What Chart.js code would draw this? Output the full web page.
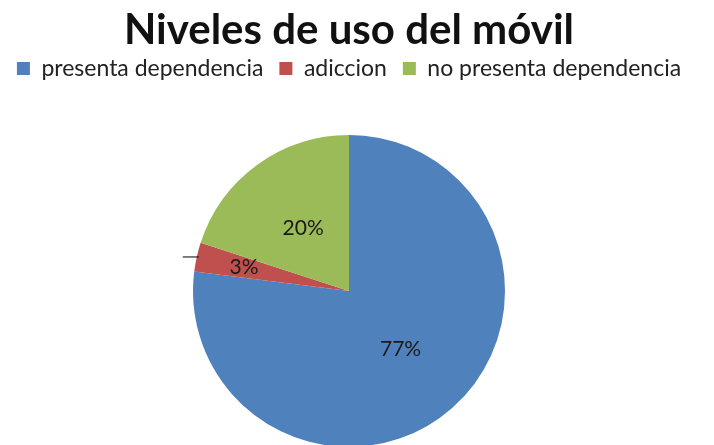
<!DOCTYPE html>
<html>
<head>
<meta charset="utf-8">
<script src="https://cdn.jsdelivr.net/npm/chart.js@4"></script>
<style>
  html, body { margin: 0; padding: 0; background: #fff; overflow: hidden; }
  #wrap { width: 714px; height: 460px; position: relative; }
</style>
</head>
<body>
<div id="wrap"><canvas id="myChart"></canvas></div>
<script>
const labels = ["presenta dependencia", "adiccion", "no presenta dependencia"];
const values = [77, 3, 20];
const colors = ["#4F81BD", "#C0504D", "#9BBB59"];

// percent labels drawn at a fraction of the radius
const sliceLabels = {
  id: "sliceLabels",
  afterDatasetsDraw(chart) {
    const ctx = chart.ctx;
    const meta = chart.getDatasetMeta(0);
    const pos = [0.5, 0.69, 0.5];
    ctx.save();
    ctx.font = "21px Lato";
    ctx.fillStyle = "#1a1a1a";
    ctx.textAlign = "center";
    ctx.textBaseline = "middle";
    meta.data.forEach((arc, i) => {
      const mid = (arc.startAngle + arc.endAngle) / 2;
      const r = arc.outerRadius * pos[i];
      const x = arc.x + Math.cos(mid) * r;
      const y = arc.y + Math.sin(mid) * r;
      ctx.fillText(values[i] + "%", x, y);
      if (i === 1) {
        // little leader stub outside the slice
        const ox = arc.x + Math.cos(mid) * arc.outerRadius;
        const oy = arc.y + Math.sin(mid) * arc.outerRadius;
        ctx.strokeStyle = "#000";
        ctx.lineWidth = 1;
        ctx.beginPath();
        ctx.moveTo(ox + 2, oy);
        ctx.lineTo(ox - 14, oy);
        ctx.stroke();
      }
    });
    ctx.restore();
  }
};

// push the pie further below the legend
const legendGap = {
  id: "legendGap",
  beforeInit(chart) {
    const fit = chart.legend.fit;
    chart.legend.fit = function () {
      fit.call(this);
      this.height += 45;
    };
  }
};

new Chart(document.getElementById("myChart"), {
  type: "pie",
  data: {
    labels: labels,
    datasets: [{
      data: values,
      backgroundColor: colors,
      borderWidth: 0
    }]
  },
  options: {
    responsive: true,
    maintainAspectRatio: false,
    animation: false,
    layout: { padding: { top: 0, bottom: 13, left: 0, right: 16 } },
    plugins: {
      title: {
        display: true,
        text: "Niveles de uso del móvil",
        color: "#111",
        font: { family: "Lato", size: 42, weight: "bold", lineHeight: 1 },
        padding: { top: 9, bottom: -10 }
      },
      legend: {
        position: "top",
        labels: {
          color: "#222",
          font: { family: "Lato", size: 23 },
          boxWidth: 13,
          boxHeight: 13,
          padding: 16
        }
      },
      tooltip: { enabled: false }
    }
  },
  plugins: [sliceLabels, legendGap]
});
</script>
</body>
</html>
